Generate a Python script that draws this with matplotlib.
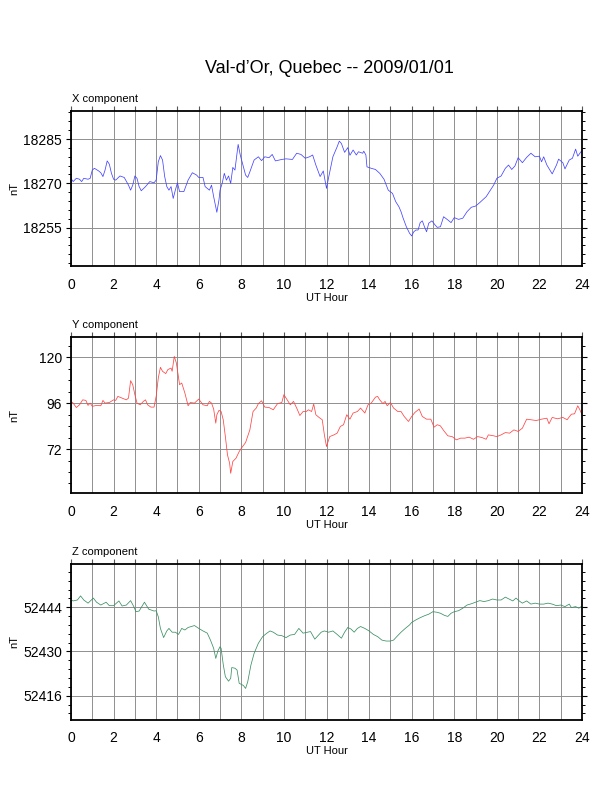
import matplotlib
matplotlib.use("Agg")
import matplotlib.pyplot as plt
from matplotlib.ticker import MultipleLocator

plt.rcParams['font.family'] = ['Liberation Sans', 'DejaVu Sans']

# === data (UT hour, nT) ===
x_hours = [0, 0.1, 0.25, 0.4, 0.5, 0.6, 0.8, 0.9, 1.0, 1.1, 1.3, 1.4, 1.5, 1.6, 1.7, 1.8, 1.9,
           2.0, 2.1, 2.3, 2.5, 2.7, 2.8, 2.9, 3.0, 3.1, 3.2, 3.3, 3.5, 3.7, 3.9, 4.0, 4.1, 4.2,
           4.3, 4.4, 4.5, 4.6, 4.7, 4.8, 4.9, 5.0, 5.1, 5.3, 5.5, 5.7, 5.9, 6.0, 6.2, 6.3, 6.5,
           6.6, 6.7, 6.85, 6.95, 7.0, 7.1, 7.2, 7.3, 7.4, 7.5, 7.6, 7.7, 7.85, 7.95, 8.1, 8.2,
           8.3, 8.4, 8.6, 8.8, 8.95, 9.1, 9.3, 9.45, 9.6, 9.9, 10.1, 10.4, 10.6, 10.8, 11.0,
           11.2, 11.35, 11.5, 11.7, 11.85, 12.0, 12.1, 12.3, 12.5, 12.6, 12.7, 12.85, 13.0,
           13.1, 13.25, 13.4, 13.5, 13.7, 13.75, 13.85, 13.9, 14.1, 14.3, 14.5, 14.7, 14.9,
           15.1, 15.25, 15.4, 15.5, 15.6, 15.75, 15.9, 16.0, 16.1, 16.2, 16.3, 16.4, 16.5,
           16.6, 16.7, 16.8, 16.95, 17.1, 17.2, 17.35, 17.5, 17.7, 17.85, 18.0, 18.2, 18.4,
           18.6, 18.8, 19.0, 19.2, 19.5, 19.7, 19.85, 20.0, 20.2, 20.4, 20.55, 20.7, 20.85,
           21.0, 21.2, 21.4, 21.6, 21.8, 22.0, 22.1, 22.2, 22.35, 22.6, 22.8, 22.9, 23.1, 23.2,
           23.4, 23.55, 23.7, 23.8, 23.95, 24.0]
x_comp = [18271.7, 18270.6, 18271.7, 18271.4, 18270.6, 18271.7, 18271.4, 18271.7, 18274.5,
          18275.1, 18274.2, 18273.6, 18272.3, 18274.5, 18277.6, 18276.5, 18273.4, 18271.4,
          18271.1, 18272.5, 18272.0, 18269.4, 18267.7, 18269.4, 18272.5, 18271.7, 18268.9,
          18267.5, 18268.9, 18270.6, 18270.2, 18271.1, 18277.3, 18279.4, 18277.9, 18272.3,
          18268.9, 18267.7, 18268.9, 18264.9, 18267.7, 18270.2, 18267.2, 18267.2, 18271.1,
          18273.6, 18272.8, 18272.0, 18272.0, 18268.9, 18267.7, 18269.4, 18265.5, 18260.2,
          18264.4, 18267.7, 18270.0, 18273.4, 18271.1, 18272.5, 18270.0, 18275.4, 18274.5,
          18283.2, 18279.6, 18275.6, 18272.8, 18272.0, 18273.9, 18277.9, 18279.0, 18277.7,
          18279.0, 18278.7, 18279.8, 18277.6, 18278.1, 18278.3, 18278.1, 18280.2, 18279.8,
          18278.5, 18279.0, 18279.6, 18276.2, 18272.3, 18274.2, 18268.3, 18272.0, 18279.0,
          18282.4, 18284.3, 18283.5, 18280.5, 18282.1, 18279.5, 18281.3, 18279.6, 18280.7,
          18280.2, 18280.9, 18279.6, 18275.6, 18275.1, 18274.7, 18273.4, 18271.4, 18267.7,
          18266.6, 18263.8, 18262.1, 18260.4, 18258.2, 18255.3, 18253.1, 18252.2, 18253.6,
          18254.2, 18254.2, 18256.7, 18257.3, 18255.3, 18253.6, 18256.5, 18257.3, 18255.9,
          18255.1, 18255.3, 18258.7, 18257.6, 18256.7, 18258.4, 18257.8, 18258.2, 18260.4,
          18261.9, 18262.3, 18263.5, 18265.5, 18267.7, 18269.4, 18271.7, 18272.5, 18275.1,
          18276.2, 18274.7, 18275.9, 18278.7, 18277.0, 18278.8, 18280.2, 18279.0, 18279.2,
          18277.3, 18279.0, 18276.2, 18273.2, 18276.2, 18278.2, 18277.0, 18274.9, 18277.9,
          18278.5, 18281.6, 18279.2, 18280.7, 18280.9]

y_hours = [0, 0.1, 0.25, 0.4, 0.55, 0.7, 0.8, 0.9, 1.0, 1.2, 1.4, 1.5, 1.6, 1.8, 2.0, 2.1,
           2.2, 2.4, 2.6, 2.7, 2.8, 2.9, 3.0, 3.1, 3.25, 3.4, 3.5, 3.6, 3.75, 3.9, 4.0, 4.1,
           4.2, 4.3, 4.45, 4.55, 4.7, 4.75, 4.85, 4.95, 5.05, 5.1, 5.2, 5.35, 5.5, 5.6, 5.8,
           6.0, 6.2, 6.4, 6.5, 6.6, 6.7, 6.8, 6.85, 6.95, 7.05, 7.15, 7.25, 7.35, 7.45, 7.5,
           7.6, 7.75, 7.9, 8.0, 8.2, 8.4, 8.55, 8.7, 8.8, 8.95, 9.1, 9.3, 9.5, 9.7, 9.9, 10.0,
           10.15, 10.3, 10.45, 10.6, 10.75, 10.9, 11.05, 11.15, 11.3, 11.4, 11.5, 11.65, 11.8,
           11.9, 12.0, 12.15, 12.35, 12.5, 12.65, 12.8, 12.95, 13.1, 13.25, 13.45, 13.6, 13.8,
           13.95, 14.1, 14.3, 14.4, 14.5, 14.65, 14.75, 14.85, 15.0, 15.15, 15.35, 15.5, 15.65,
           15.85, 16.0, 16.15, 16.35, 16.5, 16.7, 16.9, 17.05, 17.2, 17.35, 17.5, 17.7, 17.9,
           18.1, 18.3, 18.5, 18.7, 18.9, 19.1, 19.3, 19.5, 19.6, 19.85, 20.0, 20.2, 20.4, 20.6,
           20.8, 21.0, 21.2, 21.4, 21.6, 21.85, 22.1, 22.35, 22.45, 22.6, 22.85, 23.1, 23.3,
           23.5, 23.65, 23.8, 23.9, 24.0]
y_comp = [96.9, 96.0, 93.7, 95.1, 97.7, 97.4, 94.8, 96.0, 94.3, 94.8, 94.6, 97.4, 96.0, 96.3,
          97.7, 97.4, 99.5, 98.6, 97.7, 98.6, 107.7, 105.6, 100.4, 96.0, 95.1, 96.9, 97.7, 95.1,
          93.9, 93.9, 99.5, 109.1, 114.7, 112.6, 111.4, 113.5, 114.3, 112.6, 120.4, 116.9,
          109.1, 105.6, 106.5, 101.2, 94.6, 96.3, 96.0, 98.1, 95.1, 94.6, 96.9, 96.0, 92.9,
          85.5, 89.9, 92.2, 91.6, 87.3, 78.5, 68.9, 64.6, 59.3, 65.5, 67.2, 70.7, 72.4, 75.4,
          82.0, 91.6, 93.4, 95.7, 97.2, 93.9, 93.7, 92.5, 95.7, 96.3, 100.4, 97.7, 95.1, 96.9,
          93.4, 89.5, 91.6, 91.6, 92.5, 91.6, 95.5, 89.9, 88.5, 87.3, 79.4, 73.3, 78.5, 79.4,
          80.3, 83.8, 84.7, 89.9, 87.6, 90.8, 91.6, 93.4, 90.8, 95.1, 96.0, 99.1, 99.5, 97.7,
          95.7, 96.9, 94.6, 96.3, 93.4, 91.6, 91.6, 89.0, 86.4, 89.0, 91.1, 92.9, 89.0, 87.6,
          87.6, 83.4, 84.7, 84.1, 81.7, 78.9, 78.5, 76.8, 77.7, 77.7, 78.2, 77.1, 78.5, 78.0,
          77.1, 79.4, 78.9, 78.5, 79.4, 80.6, 80.3, 82.0, 81.2, 82.9, 87.6, 87.3, 86.9, 87.6,
          88.1, 85.2, 88.5, 87.8, 88.5, 87.3, 90.2, 90.4, 94.6, 92.5, 89.9]

z_hours = [0, 0.1, 0.3, 0.45, 0.6, 0.8, 1.05, 1.2, 1.4, 1.65, 1.8, 2.0, 2.25, 2.4, 2.6, 2.8,
           2.95, 3.05, 3.2, 3.45, 3.65, 3.9, 4.0, 4.1, 4.2, 4.35, 4.5, 4.6, 4.75, 4.9, 5.05,
           5.2, 5.35, 5.5, 5.8, 6.0, 6.2, 6.4, 6.55, 6.7, 6.8, 6.9, 7.0, 7.05, 7.15, 7.25, 7.4,
           7.5, 7.55, 7.7, 7.8, 7.9, 8.0, 8.1, 8.2, 8.3, 8.45, 8.6, 8.8, 9.0, 9.2, 9.35, 9.5,
           9.7, 9.9, 10.1, 10.3, 10.5, 10.7, 10.9, 11.1, 11.25, 11.45, 11.6, 11.75, 11.9, 12.1,
           12.3, 12.5, 12.7, 12.85, 13.0, 13.15, 13.3, 13.45, 13.6, 13.8, 14.0, 14.2, 14.4,
           14.6, 14.8, 15.0, 15.15, 15.3, 15.5, 15.7, 15.9, 16.0, 16.2, 16.4, 16.6, 16.8, 17.0,
           17.2, 17.35, 17.55, 17.7, 17.85, 18.0, 18.2, 18.4, 18.6, 18.8, 19.0, 19.2, 19.4,
           19.6, 19.8, 20.0, 20.2, 20.4, 20.6, 20.75, 20.9, 21.05, 21.2, 21.4, 21.6, 21.8, 22.0,
           22.2, 22.4, 22.6, 22.8, 23.0, 23.2, 23.4, 23.5, 23.7, 23.85, 24.0]
z_comp = [52446.3, 52446.0, 52446.3, 52447.6, 52446.3, 52445.3, 52446.9, 52445.6, 52444.7,
          52445.6, 52444.5, 52444.5, 52446.0, 52444.4, 52444.7, 52446.1, 52444.2, 52442.6,
          52442.8, 52445.6, 52443.4, 52442.8, 52442.9, 52441.0, 52437.3, 52434.4, 52436.5,
          52437.3, 52436.1, 52436.1, 52435.4, 52437.3, 52436.8, 52437.6, 52438.2, 52437.3,
          52436.5, 52435.8, 52433.6, 52431.0, 52427.8, 52430.2, 52431.5, 52431.0, 52425.9,
          52422.0, 52420.6, 52421.5, 52424.9, 52424.7, 52424.1, 52419.9, 52419.6, 52419.2,
          52418.3, 52420.4, 52425.7, 52429.4, 52432.6, 52434.7, 52435.8, 52436.5, 52436.1,
          52435.2, 52435.0, 52434.4, 52435.2, 52435.4, 52437.3, 52435.8, 52436.1, 52436.3,
          52433.9, 52435.0, 52436.1, 52436.5, 52436.1, 52436.5, 52435.4, 52434.2, 52436.1,
          52437.6, 52437.1, 52436.1, 52437.3, 52437.9, 52437.3, 52436.5, 52435.4, 52434.7,
          52433.6, 52433.3, 52433.3, 52433.6, 52434.7, 52436.1, 52437.3, 52438.4, 52439.2,
          52440.0, 52440.7, 52441.3, 52441.8, 52442.6, 52442.4, 52442.1, 52441.4, 52441.1,
          52442.1, 52442.6, 52442.9, 52443.7, 52444.7, 52445.1, 52445.6, 52446.1, 52445.8,
          52446.1, 52446.6, 52446.3, 52446.3, 52447.2, 52446.5, 52446.0, 52446.9, 52446.0,
          52445.3, 52446.0, 52445.0, 52445.3, 52445.0, 52445.0, 52445.3, 52445.0, 52444.5,
          52444.7, 52444.2, 52445.0, 52443.9, 52444.2, 52443.7, 52444.4]

hour_ticks = list(range(0, 25, 2))
x_ticks = [18255, 18270, 18285]
y_ticks = [72, 96, 120]
z_ticks = [52416, 52430, 52444]

panels = [
    ("X component", x_hours, x_comp, "#4444ff", x_ticks, 3, (18242.0, 18294.6), [0.116, 0.6641, 0.835, 0.1961]),
    ("Y component", y_hours, y_comp, "#ff4444", y_ticks, 6, (48.9, 130.4), [0.116, 0.3772, 0.835, 0.1970]),
    ("Z component", z_hours, z_comp, "#3a8f62", z_ticks, 2.8, (52408.4, 52457.7), [0.116, 0.0913, 0.835, 0.1966]),
]

fig = plt.figure(figsize=(6.12, 7.92), dpi=100)
fig.text(0.539, 0.9129, "Val-d\u2019Or, Quebec -- 2009/01/01", ha="center", va="center", fontsize=13)

for name, hrs, vals, col, yt, minor, ylim, pos in panels:
    ax = fig.add_axes(pos)
    ax.plot(hrs, vals, color=col, lw=0.55)
    ax.set_xlim(0, 24)
    ax.set_ylim(*ylim)
    ax.set_xticks(hour_ticks)
    ax.set_xticklabels([str(h) for h in hour_ticks], fontsize=10)
    ax.xaxis.set_minor_locator(MultipleLocator(1))
    ax.set_yticks(yt)
    ax.set_yticklabels([str(v) for v in yt], fontsize=10)
    ax.yaxis.set_minor_locator(MultipleLocator(minor))

    # grid under the curve, light gray
    ax.set_axisbelow(True)
    ax.grid(True, which="major", axis="both", color="#8f8f8f", lw=0.7)
    ax.grid(True, which="minor", axis="x", color="#8f8f8f", lw=0.7)

    ax.tick_params(axis="x", which="both", direction="out", top=True, bottom=False,
                   length=3.6, width=0.8, color="#555555", pad=4.8)
    ax.tick_params(axis="y", which="major", direction="out", left=True, right=True,
                   length=3.6, width=0.8, pad=3)
    ax.tick_params(axis="y", which="minor", direction="out", left=True, right=True,
                   length=2.0, width=0.7)
    for sp in ax.spines.values():
        sp.set_linewidth(1.3)

    ax.annotate(name, xy=(0, 1), xycoords="axes fraction", xytext=(1, 6.5),
                textcoords="offset points", ha="left", va="baseline", fontsize=8)
    ax.annotate("UT Hour", xy=(0.5, 0), xycoords="axes fraction", xytext=(0, -22.7),
                textcoords="offset points", ha="center", va="center", fontsize=8)
    ax.annotate("nT", xy=(0, 0.5), xycoords="axes fraction", xytext=(-41, 0),
                textcoords="offset points", ha="center", va="center", fontsize=8, rotation=90)

fig.savefig("out.png", dpi=100)
